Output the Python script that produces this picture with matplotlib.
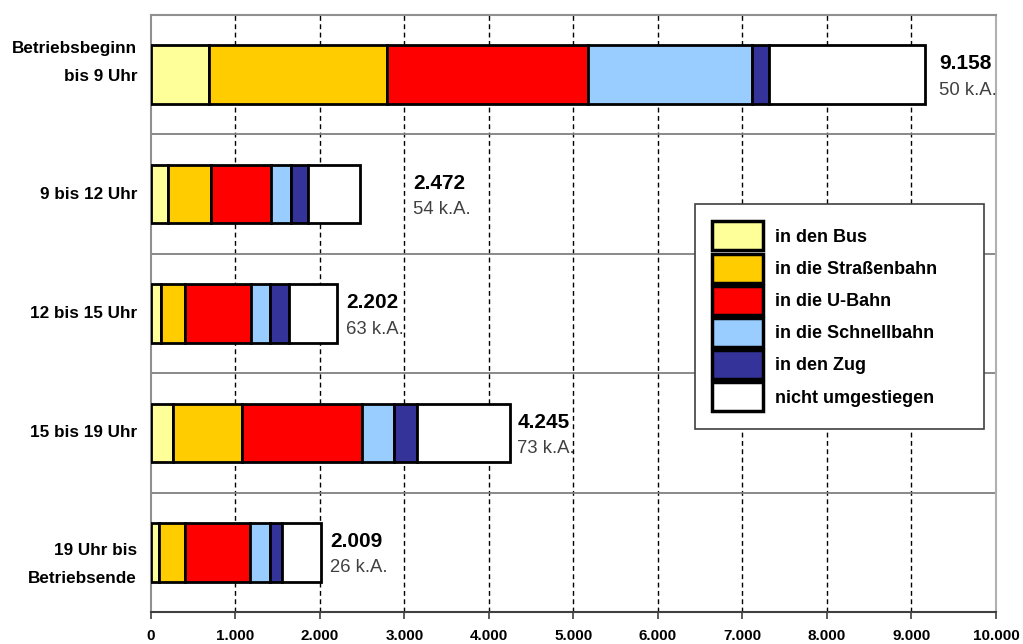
import matplotlib.pyplot as plt
import numpy as np
from matplotlib.patches import Patch

# Umsteiger nach Tageszeit (Anzahl), gestapelt nach Verkehrsmittel
zeiten = ["Betriebsbeginn\nbis 9 Uhr", "9 bis 12 Uhr", "12 bis 15 Uhr",
          "15 bis 19 Uhr", "19 Uhr bis\nBetriebsende"]
bus = [684, 201, 114, 264, 99]
strab = [2110, 505, 292, 809, 307]
ubahn = [2380, 714, 781, 1420, 770]
sbahn = [1940, 237, 221, 387, 232]
zug = [197, 197, 221, 264, 138]
nicht = [1847, 618, 573, 1101, 463]
gesamt = [9158, 2472, 2202, 4245, 2009]
keine_angabe = [50, 54, 63, 73, 26]

serien = ["in den Bus", "in die Straßenbahn", "in die U-Bahn",
          "in die Schnellbahn", "in den Zug", "nicht umgestiegen"]
farben = ["#FFFF99", "#FFCC00", "#FF0000", "#99CCFF", "#333399", "#FFFFFF"]

# Abstand der Summenbeschriftung vom Balkenende
label_gap = [170, 630, 110, 90, 110]
# vertikale Verschiebung der Kategorietexte (Punkte)
label_shift = [8.6, 0, 0, 0, -9.0]

werte = np.array([bus, strab, ubahn, sbahn, zug, nicht])
ypos = np.arange(len(zeiten))

fig = plt.figure(figsize=(10.23, 6.44), dpi=100)
ax = fig.add_axes([0.1476, 0.0497, 0.8260, 0.9270])

links = np.zeros(len(zeiten))
for i in range(len(serien)):
    ax.barh(ypos, werte[i], left=links, height=0.49, color=farben[i],
            edgecolor="black", linewidth=2.0, zorder=3)
    links += werte[i]

def tausend(v):
    return "{:,}".format(int(v)).replace(",", ".")

for y, g, ka, gap in zip(ypos, gesamt, keine_angabe, label_gap):
    ax.text(g + gap, y - 0.09, tausend(g), fontsize=15, fontweight="bold",
            va="center", ha="left", family="Liberation Sans", zorder=4)
    ax.text(g + gap, y + 0.13, "{} k.A.".format(ka), fontsize=13.3,
            color="#404040", va="center", ha="left",
            family="Liberation Sans", zorder=4)

ax.set_xlim(0, 10000)
ax.set_ylim(len(zeiten) - 0.5, -0.5)
ax.set_xticks(np.arange(0, 10001, 1000))
ax.set_xticklabels([tausend(v) for v in np.arange(0, 10001, 1000)],
                   fontsize=11, fontweight="bold", family="Liberation Sans")
ax.set_yticks(ypos)
ax.set_yticklabels([])

# Kategorietexte links neben der Achse
for y, lab, dy in zip(ypos, zeiten, label_shift):
    ax.annotate(lab, xy=(0, y), xycoords=("axes fraction", "data"),
                xytext=(-10, dy), textcoords="offset points",
                ha="right", va="center", multialignment="right",
                fontsize=12.3, fontweight="bold", family="Liberation Sans",
                linespacing=2.1)

for x in np.arange(1000, 10000, 1000):
    ax.axvline(x, color="black", linewidth=1.0, dashes=(3.5, 2.5), zorder=1)
for y in np.arange(0.5, len(zeiten) - 0.5, 1):
    ax.axhline(y, color="#808080", linewidth=1.3, zorder=2)

ax.tick_params(axis="x", direction="out", length=5, width=1.2, pad=7,
               color="#404040")
ax.tick_params(axis="y", direction="in", length=4, width=1.0,
               color="#404040")
for s in ["left", "top"]:
    ax.spines[s].set_color("#909090")
    ax.spines[s].set_linewidth(1.5)
ax.spines["right"].set_color("#b0b0b0")
ax.spines["right"].set_linewidth(1.5)
ax.spines["bottom"].set_color("#404040")
ax.spines["bottom"].set_linewidth(1.5)

handles = [Patch(facecolor=f, edgecolor="black", linewidth=2.5)
           for f in farben]
leg = ax.legend(handles, serien, loc="upper left", mode="expand",
                bbox_to_anchor=(0.644, 0.308, 0.3416, 0.375),
                borderaxespad=0, fancybox=False,
                framealpha=1, edgecolor="#404040",
                prop={"family": "Liberation Sans", "weight": "bold",
                      "size": 13},
                handlelength=2.82, handleheight=2.09, labelspacing=0.18,
                handletextpad=0.65, borderpad=0.95)
leg.get_frame().set_linewidth(1.2)
leg.set_zorder(5)

fig.savefig("out.png", dpi=100)
